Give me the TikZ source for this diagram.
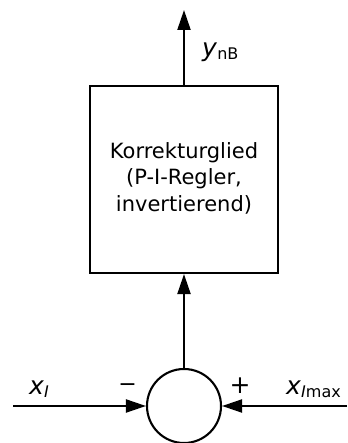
\documentclass[tikz,border=0pt]{standalone}
\usepackage{fontspec}
\setmainfont{DejaVu Sans}
\usetikzlibrary{shapes.geometric, arrows.meta}

\begin{document}
\begin{tikzpicture}[x=1pt, y=1pt, node distance=226.5pt]
\tikzstyle{block} = [rectangle, minimum width=188pt, minimum height=187pt, text centered, draw=black, line width=2.1pt, font=\fontsize{21}{26.5}\selectfont]
\tikzstyle{summer} = [circle, minimum size=74pt, inner sep=0pt, draw=black, line width=2.1pt]
\tikzstyle{arrow} = [line width=2.1pt, -{Triangle[length=20pt, width=13pt]}]
\tikzstyle{lbl} = [anchor=base west, inner sep=0pt, font=\fontsize{25}{25}\selectfont]
\tikzstyle{sgn} = [inner sep=0pt, font=\fontsize{22}{22}\selectfont]
\newcommand{\idx}[1]{\raisebox{-3pt}{\fontsize{16}{16}\selectfont #1}}
\useasboundingbox (0,0) rectangle (347,443);
 % Bloecke
\node (kg) [block] at (184,263.5) {\raisebox{-6pt}{\begin{tabular}{@{}c@{}}Korrekturglied\\(P-I-Regler,\\invertierend)\end{tabular}}};
\node (sum) [summer, below of=kg] {};
\coordinate (out) at (184,433);
\coordinate (xi) at (13,37);
\coordinate (ximax) at (347,37);
 % Beschriftungen
\node (lyout) [lbl] at (202,386) {\textit{y}\idx{nB}};
\node (lxi) [lbl] at (29,48) {\textit{x}\idx{\textit{I}}};
\node (lximax) [lbl] at (286,48) {\textit{x}\idx{\textit{I}max}};
\node (minus) [sgn] at (127.5,55) {\char"2212};
\node (plus) [sgn, font=\fontsize{25}{25}\selectfont] at (240,57) {+};
 % Verbindungen
\draw [arrow](sum) -- (kg);
\draw [arrow](kg) -- (out);
\draw [arrow](xi) -- (sum);
\draw [arrow](ximax) -- (sum);
\end{tikzpicture}
\end{document}
